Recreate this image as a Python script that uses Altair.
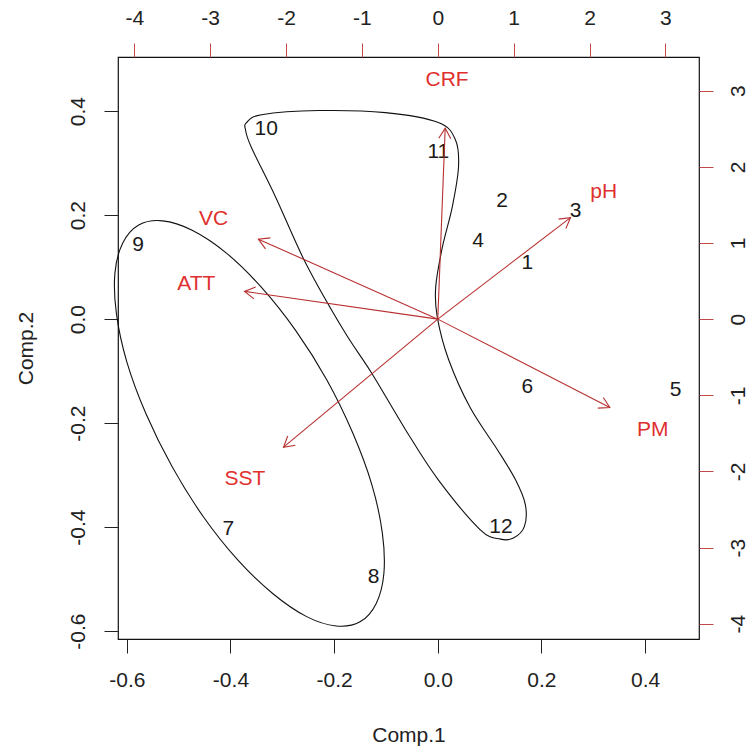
import altair as alt
import pandas as pd

# ---- observation scores (Comp.1, Comp.2) ----
obs_labels = ["1", "2", "3", "4", "5", "6", "7", "8", "9", "10", "11", "12"]
comp1 = [0.173, 0.124, 0.266, 0.078, 0.459, 0.173, -0.404, -0.124, -0.578, -0.331, 0.001, 0.122]
comp2 = [0.108, 0.228, 0.207, 0.151, -0.136, -0.131, -0.404, -0.496, 0.143, 0.365, 0.322, -0.400]

# ---- variable loadings (secondary top/right scale) ----
var_names = ["CRF", "pH", "PM", "VC", "ATT", "SST"]
load1 = [0.122, 2.186, 2.834, -2.955, -3.183, -2.541]
load2 = [3.135, 1.667, -1.451, 1.313, 0.455, -2.102]

# ---- hand-drawn group outlines (in Comp units) ----
ell_x = [-0.150, -0.196, -0.253, -0.318, -0.386, -0.453, -0.513, -0.563, -0.600, -0.620, -0.623, -0.608,
         -0.577, -0.531, -0.474, -0.409, -0.341, -0.274, -0.214, -0.164, -0.127, -0.107, -0.104, -0.119]
ell_y = [-0.582, -0.590, -0.572, -0.528, -0.463, -0.379, -0.283, -0.182, -0.082, 0.010, 0.088, 0.146,
         0.181, 0.189, 0.171, 0.128, 0.062, -0.022, -0.117, -0.219, -0.319, -0.411, -0.489, -0.547]
las_x = [-0.369, -0.340, -0.230, -0.101, 0.001, 0.034, 0.040, 0.028, 0.009, -0.004, -0.001, 0.021,
         0.063, 0.115, 0.150, 0.169, 0.167, 0.146, 0.121, 0.082, 0.001, -0.062, -0.128, -0.182,
         -0.255, -0.313, -0.360, -0.371]
las_y = [0.378, 0.393, 0.401, 0.397, 0.378, 0.345, 0.293, 0.216, 0.139, 0.062, 0.004, -0.078,
         -0.171, -0.251, -0.309, -0.357, -0.399, -0.421, -0.423, -0.405, -0.309, -0.213, -0.103,
         -0.021, 0.108, 0.235, 0.331, 0.364]

x_ticks = [-0.6, -0.4, -0.2, 0.0, 0.2, 0.4]
y_ticks = [-0.6, -0.4, -0.2, 0.0, 0.2, 0.4]
sec_ticks = [-4, -3, -2, -1, 0, 1, 2, 3]

FONT = "Liberation Sans"
FS = 21
RED_TXT = "#E0302F"
RED_LINE = "#B83030"
W, H = 581, 582

xdom = [-0.617, 0.504]
ydom = [-0.615, 0.504]
ratio = 6.83
xdom2 = [xdom[0] * ratio, xdom[1] * ratio]
ydom2 = [ydom[0] * ratio, ydom[1] * ratio]

scores = pd.DataFrame({"lab": obs_labels, "c1": comp1, "c2": comp2})
outl = pd.DataFrame({
    "c1": ell_x + las_x,
    "c2": ell_y + las_y,
    "grp": ["a"] * len(ell_x) + ["b"] * len(las_x),
    "i": list(range(len(ell_x))) + list(range(len(las_x))),
})
loads = pd.DataFrame({"name": var_names, "l1": load1, "l2": load2})

lab1 = "datum.value < 0 ? '-' + format(-datum.value, '.1f') : format(datum.value, '.1f')"
lab2 = "datum.value < 0 ? '-' + format(-datum.value, 'd') : format(datum.value, 'd')"

common_axis = dict(domain=False, grid=False, labelFont=FONT, labelFontSize=FS, labelColor="#222",
                   labelFlush=False, labelOverlap=False, titleFont=FONT, titleFontSize=FS,
                   titleFontWeight="normal", titleColor="#222", tickSize=14, tickWidth=1)

ax_bottom = alt.Axis(orient="bottom", values=x_ticks, labelExpr=lab1, tickColor="#222",
                     labelBaseline="top", labelAlign="center", labelPadding=16, labelAngle=0,
                     title="Comp.1", titleX=W / 2, titleY=96, titleBaseline="middle",
                     titleAlign="center", **common_axis)
ax_left = alt.Axis(orient="left", values=y_ticks, labelExpr=lab1, tickColor="#222",
                   labelAngle=270, labelAlign="center", labelBaseline="alphabetic", labelPadding=20,
                   title="Comp.2", titleAngle=270, titleX=-92, titleY=H / 2, titleBaseline="middle",
                   titleAlign="center", **common_axis)
ax_top = alt.Axis(orient="top", values=sec_ticks, labelExpr=lab2, tickColor="#C04848",
                  labelAngle=0, labelAlign="center", labelBaseline="alphabetic", labelPadding=19,
                  title=None, **common_axis)
ax_right = alt.Axis(orient="right", values=sec_ticks, labelExpr=lab2, tickColor="#C04848",
                    labelAngle=270, labelAlign="center", labelBaseline="top", labelPadding=14,
                    title=None, **common_axis)

sx = alt.Scale(domain=xdom, nice=False, zero=False)
sy = alt.Scale(domain=ydom, nice=False, zero=False)
sx2 = alt.Scale(domain=xdom2, nice=False, zero=False)
sy2 = alt.Scale(domain=ydom2, nice=False, zero=False)

# primary group
outlines = alt.Chart(outl).mark_line(interpolate="cardinal-closed", color="#111", strokeWidth=1.1).encode(
    x=alt.X("c1:Q", scale=sx, axis=ax_bottom),
    y=alt.Y("c2:Q", scale=sy, axis=ax_left),
    detail="grp:N",
    order="i:Q",
)
score_text = alt.Chart(scores).mark_text(font=FONT, fontSize=FS, color="#1a1a1a",
                                         align="center", baseline="middle").encode(
    x=alt.X("c1:Q", scale=sx, axis=ax_bottom),
    y=alt.Y("c2:Q", scale=sy, axis=ax_left),
    text="lab:N",
)
primary = alt.layer(outlines, score_text)

# secondary group (loadings)
base2 = alt.Chart(loads).transform_calculate(
    tx="0.8 * datum.l1", ty="0.8 * datum.l2", ox="0", oy="0",
    ang="(atan2(datum.l1, datum.l2) * 180 / PI + 360) % 360",
)
arrows = base2.mark_rule(color=RED_LINE, strokeWidth=1.1).encode(
    x=alt.X("ox:Q", scale=sx2, axis=ax_top),
    y=alt.Y("oy:Q", scale=sy2, axis=ax_right),
    x2="tx:Q",
    y2="ty:Q",
)
heads = base2.mark_point(shape="M -0.5 0.866 L 0 0 L 0.5 0.866", filled=False, size=576,
                         strokeWidth=1.1, color=RED_LINE, opacity=1).encode(
    x=alt.X("tx:Q", scale=sx2, axis=ax_top),
    y=alt.Y("ty:Q", scale=sy2, axis=ax_right),
    angle=alt.Angle("ang:Q", scale=None),
)
var_text = base2.mark_text(font=FONT, fontSize=FS, color=RED_TXT, align="center",
                           baseline="middle").encode(
    x=alt.X("l1:Q", scale=sx2, axis=ax_top),
    y=alt.Y("l2:Q", scale=sy2, axis=ax_right),
    text="name:N",
)
secondary = alt.layer(arrows, heads, var_text)

chart = alt.layer(primary, secondary).resolve_scale(
    x="independent", y="independent"
).properties(
    width=W, height=H,
    padding={"left": 118, "top": 57, "right": 751 - 118 - W, "bottom": 748 - 57 - H},
    autosize=alt.AutoSizeParams(type="none"),
    background="white",
).configure_view(stroke="#111", strokeWidth=1.2)

chart.save("out.html", embed_options={"renderer": "svg", "actions": False})
